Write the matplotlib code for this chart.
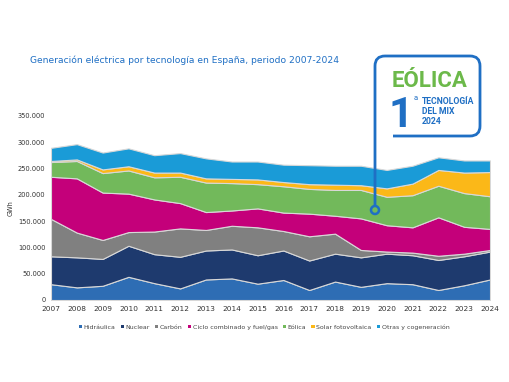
import matplotlib
matplotlib.use("Agg")
import matplotlib.pyplot as plt
import numpy as np
from matplotlib.path import Path
from matplotlib.patches import PathPatch, Circle, Patch
from matplotlib.ticker import FuncFormatter

years = [2007, 2008, 2009, 2010, 2011, 2012, 2013, 2014, 2015, 2016,
         2017, 2018, 2019, 2020, 2021, 2022, 2023, 2024]
hidraulica = [30, 24, 27, 44, 32, 22, 39, 41, 31, 38, 19, 35, 25, 32, 30, 19, 28, 39]
nuclear = [53, 57, 51, 59, 55, 60, 55, 55, 54, 56, 56, 53, 56, 56, 55, 57, 55, 53]
carbon = [71, 47, 36, 26, 43, 54, 39, 45, 53, 37, 46, 38, 14, 4, 5, 8, 5, 3]
ciclo = [80, 103, 90, 73, 61, 48, 34, 29, 36, 35, 43, 34, 60, 50, 48, 73, 51, 40]
eolica = [28, 33, 37, 44, 42, 50, 56, 52, 46, 50, 47, 49, 54, 54, 61, 60, 64, 62]
solar = [2, 3, 7, 8, 9, 8, 8, 8, 9, 8, 9, 10, 9, 16, 22, 30, 39, 46]
otras = [25, 29, 32, 34, 33, 37, 38, 33, 34, 33, 36, 36, 37, 35, 34, 24, 23, 22]

labels = ["Hidráulica", "Nuclear", "Carbón", "Ciclo combinado y fuel/gas",
          "Eólica", "Solar fotovoltaica", "Otras y cogeneración"]
colors = ["#2e6db4", "#1e3a6e", "#808080", "#c4007a", "#72b95b", "#fbb818", "#1a9bd7"]

W, H = 510, 382
fig = plt.figure(figsize=(W / 100, H / 100), dpi=100)
fig.patch.set_facecolor("white")

ax = fig.add_axes([51 / W, 1 - 300 / H, (490 - 51) / W, (300 - 115.7) / H])
x = np.arange(len(years))
series = [np.array(s) * 1000 for s in [hidraulica, nuclear, carbon, ciclo, eolica, solar, otras]]
ax.stackplot(x, *series, colors=colors, edgecolor="#d8d8d8", linewidth=0.8)
ax.set_xlim(0, len(years) - 1)
ax.set_ylim(0, 350000)
ax.set_yticks(np.arange(0, 350001, 50000))
ax.yaxis.set_major_formatter(FuncFormatter(lambda v, p: f"{int(v):,}".replace(",", ".")))
ax.set_xticks(x)
ax.set_xticklabels([str(y) for y in years])
for s in ax.spines.values():
    s.set_visible(False)
ax.tick_params(axis="y", length=0, labelsize=4.8, colors="#333333", pad=4)
ax.tick_params(axis="x", length=0, labelsize=5.3, colors="#333333", pad=4)
ax.set_ylabel("GWh", fontsize=4.8, color="#333333")
ax.yaxis.set_label_coords((14 - 51) / (490 - 51), 0.5)

handles = [Patch(facecolor=c, edgecolor="none") for c in colors]
fig.legend(handles, labels, loc="center", bbox_to_anchor=(264 / W, 1 - 327 / H), ncol=7,
           frameon=False, fontsize=4.5, handlelength=0.55, handleheight=0.55,
           handletextpad=0.25, columnspacing=0.8, labelcolor="#444444")

fig.text(30 / W, 1 - 60 / H, "Generación eléctrica por tecnología en España, periodo 2007-2024",
         fontsize=6.6, color="#1f6fc4", ha="left", va="center")

ov = fig.add_axes([0, 0, 1, 1])
ov.set_xlim(0, W)
ov.set_ylim(H, 0)
ov.axis("off")
blue = "#1f6fc4"
r = 10
verts = [(375, 206), (375, 56 + r), (375, 56), (375 + r, 56), (480 - r, 56), (480, 56), (480, 56 + r),
         (480, 136 - r), (480, 136), (480 - r, 136), (393, 136)]
codes = [Path.MOVETO, Path.LINETO, Path.CURVE3, Path.CURVE3, Path.LINETO, Path.CURVE3, Path.CURVE3,
         Path.LINETO, Path.CURVE3, Path.CURVE3, Path.LINETO]
ov.add_patch(PathPatch(Path(verts, codes), facecolor="none", edgecolor=blue, lw=2))
ov.add_patch(Circle((375, 210), 4, facecolor="none", edgecolor=blue, lw=1.8))
ov.text(430, 87, "EÓLICA", fontsize=16, fontweight="bold", color="#6cb94a",
        ha="center", va="baseline", family="Roboto")
ov.text(401, 127, "1", fontsize=31, fontweight="bold", color=blue, ha="center", va="baseline",
        family="Roboto")
ov.text(416, 98, "a", fontsize=5.5, color=blue, ha="center", va="center", family="Roboto")
for i, t in enumerate(["TECNOLOGÍA", "DEL MIX", "2024"]):
    ov.text(422, 101 + 10 * i, t, fontsize=6.2, fontweight="bold", color=blue, ha="left",
            va="center", family="Roboto")

fig.savefig("out.png", dpi=100, facecolor="white")
